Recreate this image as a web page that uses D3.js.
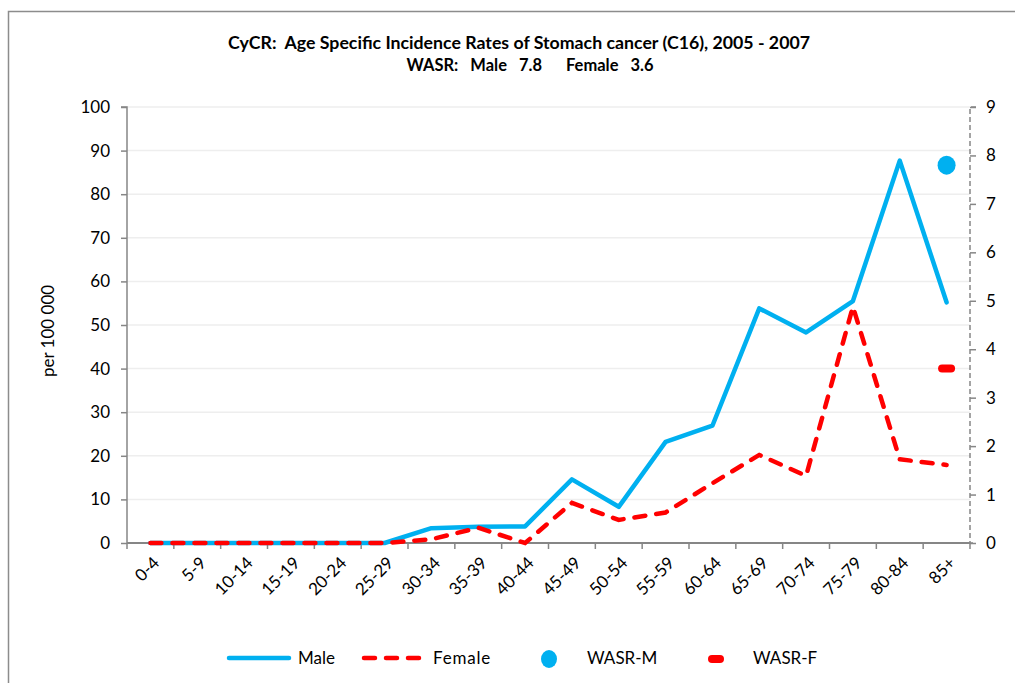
<!DOCTYPE html>
<html>
<head>
<meta charset="utf-8">
<script src="https://cdn.jsdelivr.net/npm/d3@7"></script>
<style>
  body { margin: 0; background: #fff; }
  svg { display: block; font-family: Lato, "Liberation Sans", sans-serif; }
  .title { white-space: pre; }
</style>
</head>
<body>
<svg id="chart" width="1015" height="683"></svg>
<script>
const ageGroups = ['0-4', '5-9', '10-14', '15-19', '20-24', '25-29', '30-34', '35-39', '40-44',
  '45-49', '50-54', '55-59', '60-64', '65-69', '70-74', '75-79', '80-84', '85+'];
const maleRates = [0, 0, 0, 0, 0, 0, 3.4, 3.7, 3.8, 14.6, 8.3, 23.2, 26.9, 53.8, 48.3, 55.5, 87.7, 55.2];
const femaleRates = [0, 0, 0, 0, 0, 0, 0.85, 3.5, 0, 9.2, 5.3, 7.0, 13.7, 20.2, 15.4, 54.2, 19.2, 17.9];
const wasrMale = 7.8;
const wasrFemale = 3.6;
const leftTicks = [0, 10, 20, 30, 40, 50, 60, 70, 80, 90, 100];
const rightTicks = [0, 1, 2, 3, 4, 5, 6, 7, 8, 9];

const margin = { left: 127, right: 45, top: 107, bottom: 140 };
const width = 1015, height = 683;
const MALE = '#00b0f0', FEMALE = '#ff0000', AXIS = '#868686';
const FS = 17;

const svg = d3.select('#chart');

// outer frame
svg.append('rect')
  .attr('x', 8.5).attr('y', 11.5)
  .attr('width', 1020).attr('height', 700)
  .attr('fill', 'none').attr('stroke', '#8c8c8c').attr('stroke-width', 1.5);

// title
const title = svg.append('text')
  .attr('class', 'title')
  .attr('text-anchor', 'middle')
  .attr('font-weight', 'bold')
  .attr('font-size', 16.5)
  .attr('fill', '#000');
title.append('tspan').attr('x', 519).attr('y', 49)
  .attr('textLength', 582).attr('lengthAdjust', 'spacingAndGlyphs')
  .text('CyCR:  Age Specific Incidence Rates of Stomach cancer (C16), 2005 - 2007');
title.append('tspan').attr('x', 530).attr('y', 71)
  .attr('textLength', 247).attr('lengthAdjust', 'spacingAndGlyphs')
  .text('WASR:   Male   7.8      Female   3.6');

// scales
const x = d3.scaleBand()
  .domain(ageGroups)
  .range([margin.left, width - margin.right]);
const y = d3.scaleLinear().domain([0, 100]).range([height - margin.bottom, margin.top]);
const y2 = d3.scaleLinear().domain([0, 9]).range([height - margin.bottom, margin.top]);
const cx = d => x(d) + x.bandwidth() / 2;

// gridlines
svg.append('g')
  .selectAll('line')
  .data(leftTicks.slice(1))
  .join('line')
  .attr('x1', margin.left).attr('x2', width - margin.right)
  .attr('y1', d => y(d)).attr('y2', d => y(d))
  .attr('stroke', '#eeeeee').attr('stroke-width', 1.5);

// left axis
const yAxis = svg.append('g')
  .attr('transform', `translate(${margin.left},0)`)
  .call(d3.axisLeft(y).tickValues(leftTicks).tickSize(6).tickPadding(11));
yAxis.selectAll('path, line').attr('stroke', AXIS).attr('stroke-width', 1.5);
yAxis.select('.domain').attr('d', `M-6,${y(100)}H0V${y(0)}`);
yAxis.selectAll('text').attr('font-size', FS).attr('fill', '#000')
  .attr('font-family', 'Lato, sans-serif');

// right axis (dashed)
const y2Axis = svg.append('g')
  .attr('transform', `translate(${width - margin.right},0)`)
  .call(d3.axisRight(y2).tickValues(rightTicks).tickSize(6).tickPadding(10));
y2Axis.selectAll('path, line').attr('stroke', AXIS).attr('stroke-width', 1.5);
y2Axis.select('.domain').attr('d', `M6,${y2(9)}H0V${y2(0)}H6`).attr('stroke-dasharray', '5,3');
y2Axis.selectAll('text').attr('font-size', FS).attr('fill', '#000')
  .attr('font-family', 'Lato, sans-serif');

// x axis, ticks between categories
const xAxis = svg.append('g')
  .attr('transform', `translate(0,${height - margin.bottom})`);
xAxis.append('line')
  .attr('x1', margin.left).attr('x2', width - margin.right)
  .attr('stroke', AXIS).attr('stroke-width', 2);
xAxis.selectAll('line.tick')
  .data(ageGroups.concat(['end']))
  .join('line')
  .attr('class', 'tick')
  .attr('x1', (d, i) => margin.left + i * x.bandwidth())
  .attr('x2', (d, i) => margin.left + i * x.bandwidth())
  .attr('y1', 0).attr('y2', 6)
  .attr('stroke', AXIS).attr('stroke-width', 1.5);
xAxis.selectAll('text')
  .data(ageGroups)
  .join('text')
  .attr('transform', d => `translate(${cx(d) + 10},${21}) rotate(-45)`)
  .attr('text-anchor', 'end')
  .attr('font-size', FS)
  .attr('fill', '#000')
  .text(d => d);

// y axis title
svg.append('text')
  .attr('transform', `translate(54,${331}) rotate(-90)`)
  .attr('text-anchor', 'middle')
  .attr('font-size', 17)
  .text('per 100 000');

// lines
const line = d3.line().x((d, i) => cx(ageGroups[i])).y(d => y(d));
svg.append('path')
  .datum(maleRates)
  .attr('d', line)
  .attr('fill', 'none').attr('stroke', MALE).attr('stroke-width', 4.5)
  .attr('stroke-linejoin', 'round').attr('stroke-linecap', 'round');
svg.append('path')
  .datum(femaleRates)
  .attr('d', line)
  .attr('fill', 'none').attr('stroke', FEMALE).attr('stroke-width', 4.5)
  .attr('stroke-dasharray', '11,11').attr('stroke-linecap', 'round');

// WASR markers on secondary axis
const lastX = cx(ageGroups[ageGroups.length - 1]);
svg.append('ellipse')
  .attr('cx', lastX).attr('cy', y2(wasrMale))
  .attr('rx', 9).attr('ry', 9.5).attr('fill', MALE);
svg.append('rect')
  .attr('x', lastX - 8.5).attr('y', y2(wasrFemale) - 4)
  .attr('width', 17).attr('height', 8).attr('rx', 4)
  .attr('fill', FEMALE);

// legend
const ly = 658;
const legend = svg.append('g').attr('font-size', FS);
legend.append('line').attr('x1', 229).attr('x2', 289).attr('y1', ly).attr('y2', ly)
  .attr('stroke', MALE).attr('stroke-width', 4.5).attr('stroke-linecap', 'round');
legend.append('text').attr('x', 298).attr('y', ly + 6).text('Male');
legend.append('line').attr('x1', 364).attr('x2', 420).attr('y1', ly).attr('y2', ly)
  .attr('stroke', FEMALE).attr('stroke-width', 4.5).attr('stroke-linecap', 'round')
  .attr('stroke-dasharray', '11,11');
legend.append('text').attr('x', 433).attr('y', ly + 6).attr('letter-spacing', 0.8).text('Female');
legend.append('ellipse').attr('cx', 549).attr('cy', ly + 1).attr('rx', 8).attr('ry', 9).attr('fill', MALE);
legend.append('text').attr('x', 587).attr('y', ly + 6).text('WASR-M');
legend.append('rect').attr('x', 708).attr('y', ly - 3).attr('width', 16).attr('height', 8).attr('rx', 4).attr('fill', FEMALE);
legend.append('text').attr('x', 753).attr('y', ly + 6).text('WASR-F');
</script>
</body>
</html>
